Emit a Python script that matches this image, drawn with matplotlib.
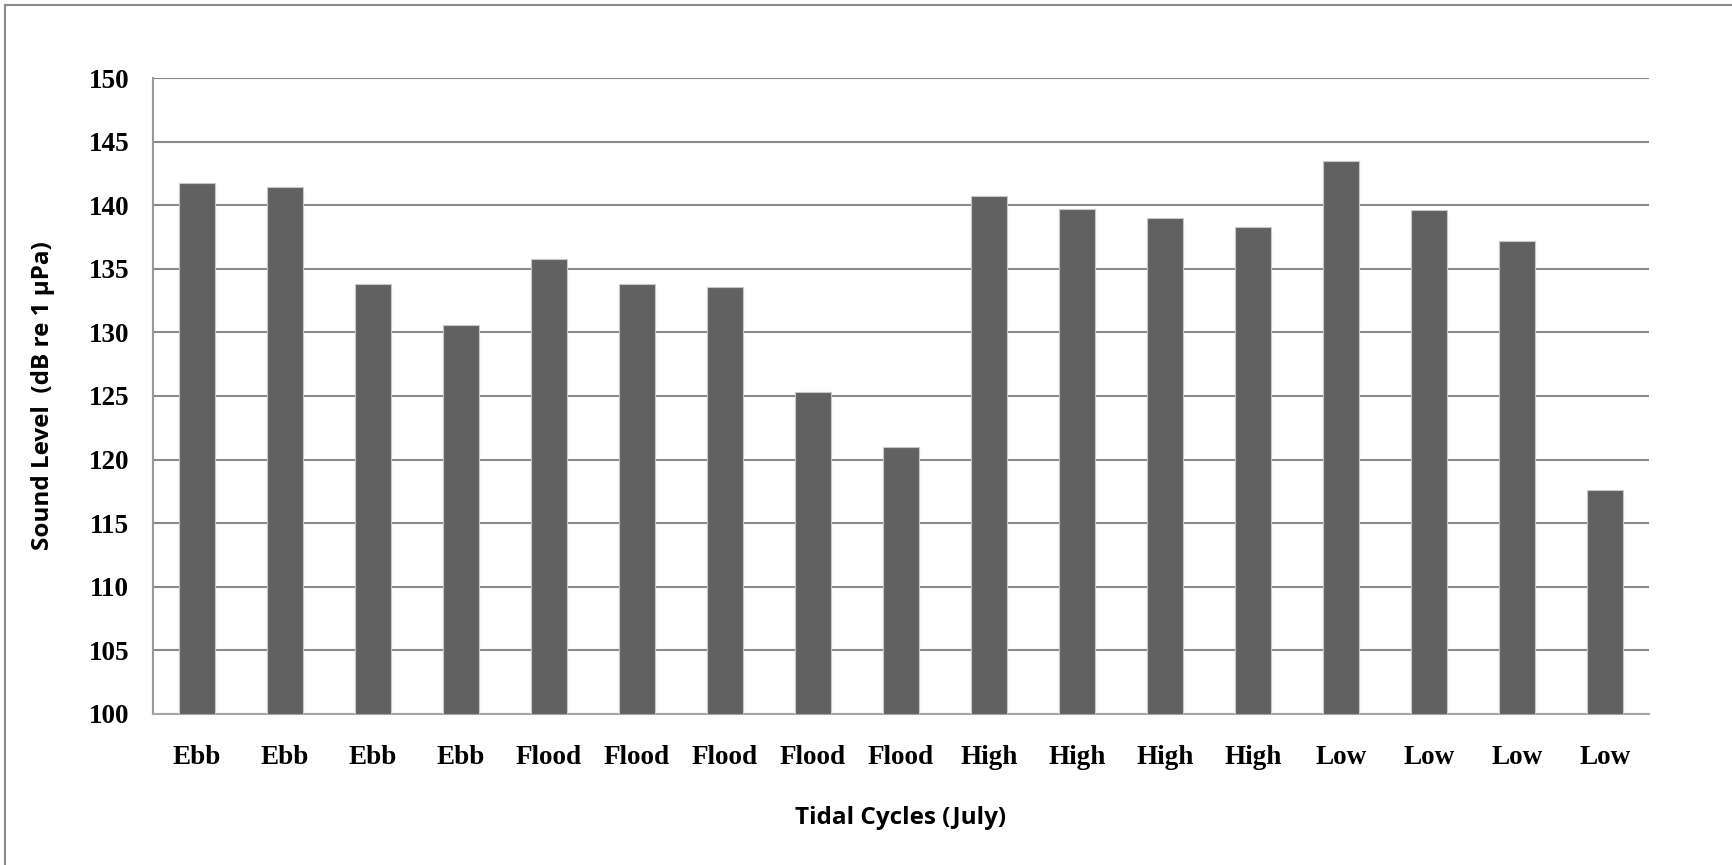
"""
Tidal cycle sound levels (July) - bar chart
"""

import matplotlib
matplotlib.use('Agg')
import matplotlib.pyplot as plt
from matplotlib.lines import Line2D
import numpy as np

# Data
tide_labels = ['Ebb', 'Ebb', 'Ebb', 'Ebb',
               'Flood', 'Flood', 'Flood', 'Flood', 'Flood',
               'High', 'High', 'High', 'High',
               'Low', 'Low', 'Low', 'Low']
sound_levels = [141.75, 141.4, 133.8, 130.55,
                135.8, 133.8, 133.57, 125.31, 120.99,
                140.7, 139.68, 139.02, 138.29,
                143.45, 139.65, 137.21, 117.64]
y_ticks = [100, 105, 110, 115, 120, 125, 130, 135, 140, 145, 150]

fig = plt.figure(figsize=(17.32, 8.65), dpi=100)
ax = fig.add_axes([0.0883, 0.1746, 0.8638, 0.7352])

x = np.arange(len(sound_levels))
# bars start at 100 (axis floor), like the original spreadsheet chart
ax.bar(x, np.array(sound_levels) - 100, bottom=100, width=0.4,
       color='#616161', edgecolor='#c8c8c8', linewidth=0.8, zorder=3)

ax.set_xlim(-0.5, len(sound_levels) - 0.5)
ax.set_ylim(100, 150)
ax.set_yticks(y_ticks)
ax.set_xticks(x)
ax.set_xticklabels(tide_labels)

for lbl in ax.get_xticklabels() + ax.get_yticklabels():
    lbl.set_fontfamily('Liberation Serif')
    lbl.set_fontweight('bold')
    lbl.set_fontsize(19.5)

ax.tick_params(axis='both', length=0)
ax.tick_params(axis='x', pad=22)
ax.tick_params(axis='y', pad=17)

# horizontal grid
ax.yaxis.grid(True, color='#8a8a8a', linewidth=1.5, zorder=0)
ax.set_axisbelow(True)

for side in ['top', 'right']:
    ax.spines[side].set_visible(False)
ax.spines['left'].set_color('#999999')
ax.spines['left'].set_linewidth(1.5)
ax.spines['bottom'].set_color('#a6a6a6')
ax.spines['bottom'].set_linewidth(1.5)

ax.set_xlabel('Tidal Cycles (July)', fontfamily='Open Sans', fontweight='bold',
              fontsize=17.5, labelpad=26)
ax.set_ylabel('Sound Level  (dB re 1 \u00b5Pa)', fontfamily='Open Sans',
              fontweight='bold', fontsize=17.5, labelpad=24)

# outer frame (top and left edges only visible in the original)
fig.add_artist(Line2D([5 / 1732, 5 / 1732], [0, 1 - 5 / 865],
                      transform=fig.transFigure, color='#8a8a8a', linewidth=1.5))
fig.add_artist(Line2D([5 / 1732, 1], [1 - 5 / 865, 1 - 5 / 865],
                      transform=fig.transFigure, color='#8a8a8a', linewidth=1.5))

fig.savefig('out.png', dpi=100, facecolor='white')
